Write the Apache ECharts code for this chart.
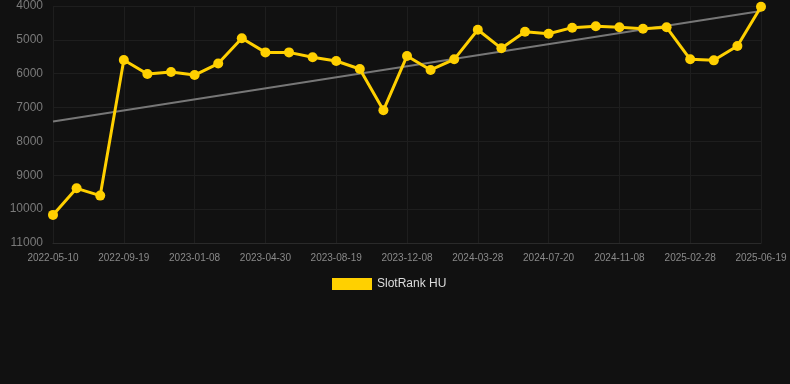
<!DOCTYPE html>
<html><head><meta charset="utf-8">
<script src="https://cdn.jsdelivr.net/npm/echarts@6/dist/echarts.min.js"></script>
<style>html,body{margin:0;padding:0;background:#111111;}#c{width:790px;height:384px;}</style>
</head><body><div id="c"></div>
<script>
const categories = ["2022-05-10","2022-06-23","2022-08-06","2022-09-19","2022-10-26","2022-12-02","2023-01-08","2023-02-14","2023-03-23","2023-04-30","2023-06-06","2023-07-13","2023-08-19","2023-09-25","2023-11-01","2023-12-08","2024-01-14","2024-02-20","2024-03-28","2024-05-05","2024-06-12","2024-07-20","2024-08-26","2024-10-02","2024-11-08","2024-12-15","2025-01-21","2025-02-28","2025-04-06","2025-05-13","2025-06-19"];
const rankValues = [10170,9385,9600,5595,6010,5950,6040,5700,4955,5370,5370,5515,5625,5860,7080,5475,5890,5575,4700,5250,4760,4820,4640,4600,4630,4670,4630,5575,5605,5180,4020];
const trendStart = 7410;
const trendEnd = 4150;
const yTicks = {min:4000, max:11000, interval:1000};

const trend = categories.map((c,i)=> i===0 ? trendStart : (i===categories.length-1 ? trendEnd : null));

const chart = echarts.init(document.getElementById('c'), null, {renderer:'canvas'});
chart.setOption({
  backgroundColor:'#111111',
  animation:false,
  grid:{left:53, right:29, top:6, bottom:141, containLabel:false},
  legend:{
    data:['SlotRank HU'], top:278, left:332,
    itemWidth:40, itemHeight:12, icon:'rect', padding:0,
    textStyle:{color:'#dddddd', fontSize:12, fontFamily:'Liberation Sans, Arial, sans-serif'}
  },
  xAxis:{
    type:'category', data:categories, boundaryGap:false,
    axisLine:{show:true, lineStyle:{color:'#2a2a2a'}},
    axisTick:{show:false},
    axisLabel:{interval:2, color:'#8a8a8a', fontSize:10, margin:10, fontFamily:'Liberation Sans, Arial, sans-serif'},
    splitLine:{show:true, interval:2, lineStyle:{color:'#1e1e1e', width:1}}
  },
  yAxis:{
    type:'value', inverse:true, min:yTicks.min, max:yTicks.max, interval:yTicks.interval,
    axisLine:{show:false}, axisTick:{show:false},
    axisLabel:{color:'#7a7a7a', fontSize:12, margin:10, fontFamily:'Liberation Sans, Arial, sans-serif',
      formatter:function(v){return String(v);}},
    splitLine:{show:true, lineStyle:{color:'#1e1e1e', width:1}}
  },
  series:[
    {
      name:'Trend', type:'line', data:trend, connectNulls:true, symbol:'none',
      lineStyle:{color:'#777777', width:2}, z:1, silent:true
    },
    {
      name:'SlotRank HU', type:'line', data:rankValues,
      symbol:'circle', symbolSize:10,
      itemStyle:{color:'#FFD000'},
      lineStyle:{color:'#FFD000', width:3}, z:2
    }
  ]
});
</script></body></html>
